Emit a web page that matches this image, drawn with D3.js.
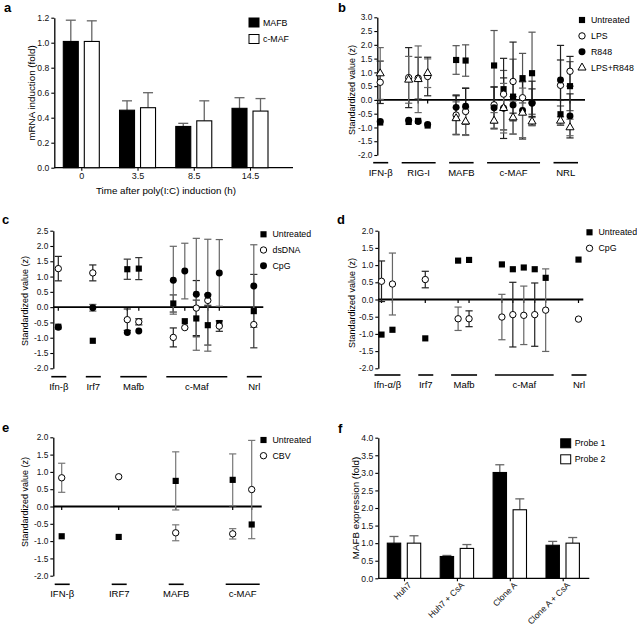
<!DOCTYPE html>
<html><head><meta charset="utf-8">
<script src="https://cdn.jsdelivr.net/npm/d3@7"></script>
<style>body{margin:0;background:#fff} svg{display:block}</style>
</head><body><svg id="c" width="637" height="630"></svg>
<script>
// ---------------- DATA ----------------
// Panel a
const aTimes = ["0", "3.5", "8.5", "14.5"];
const aMAFB = [1.01, 0.46, 0.33, 0.475];
const aMAFBErr = [0.17, 0.075, 0.025, 0.085];
const aCMAF = [1.01, 0.48, 0.375, 0.453];
const aCMAFErr = [0.165, 0.12, 0.16, 0.10];
const aYTicks = [0, 0.2, 0.4, 0.6, 0.8, 1.0, 1.2];
const aSeries = ["MAFB", "c-MAF"];

// Panel b
const bGroups = ["IFN-β", "RIG-I", "MAFB", "c-MAF", "NRL"];
const bGroupSizes = [1, 3, 2, 5, 2];
const bUntreated = [-0.82, -0.80, -0.76, -0.93, 1.45, 1.43, 1.25, 0.39, 0.12, 0.79, 0.97, -0.52, 0.50];
const bUntreatedErr = [0, 0, 0, 0, 0.52, 0.57, 1.27, 0.68, 1.36, 0.90, 1.49, 0.30, 0.89];
const bLPS = [0.64, 0.81, 0.79, 0.85, -0.55, -0.42, -0.18, 0.21, 0.67, 0.08, -0.10, 0.53, 1.04];
const bLPSErr = [0.77, 1.09, 0.76, 0.70, 0.70, 0.85, 0.65, 1.30, 1.43, 0.60, 0.50, 1.45, 0.54];
const bR848 = [-0.78, -0.74, -0.78, -0.89, -0.27, -0.23, -0.28, -0.30, -0.18, -0.38, -0.12, 0.72, -0.58];
const bR848Err = [0, 0, 0, 0, 0.45, 0.65, 0.75, 1.10, 0.30, 1.04, 0.80, 0.73, 0.80];
const bLPSR848 = [0.96, 0.73, 0.75, 0.97, -0.67, -0.79, -0.76, -0.30, -0.64, -0.47, -0.79, -0.76, -1.00];
const bLPSR848Err = [0.94, 0.85, 1.21, 0.52, 0.60, 0.50, 0.30, 0.90, 0.60, 0.90, 0.15, 0.15, 0.30];
const bLegend = ["Untreated", "LPS", "R848", "LPS+R848"];

// Panel c
const cGroups = ["Ifn-β", "Irf7", "Mafb", "c-Maf", "Nrl"];
const cGroupSizes = [1, 1, 2, 5, 1];
const cUntreated = [-0.64, -1.10, 1.24, 1.26, 0.12, -0.46, -0.37, -0.59, -0.52, -0.13];
const cUntreatedErr = [0, 0, 0.33, 0.36, 0.28, 0, 0.60, 0.65, 0, 1.20];
const cDsDNA = [1.26, 1.12, -0.41, -0.48, -0.99, -0.67, -0.03, 0.22, -0.62, -0.57];
const cDsDNAErr = [0.40, 0.26, 0.35, 0.10, 0.31, 0, 0.90, 0.20, 0.17, 0];
const cCpG = [-0.66, -0.02, -0.83, -0.78, 0.88, 1.18, 0.42, 0.39, 1.12, 0.69];
const cCpGErr = [0, 0.11, 0, 0, 1.11, 0.91, 1.83, 1.83, 1.09, 1.35];
const cLegend = ["Untreated", "dsDNA", "CpG"];

// Panel d
const dGroups = ["Ifn-α/β", "Irf7", "Mafb", "c-Maf", "Nrl"];
const dGroupSizes = [2, 1, 2, 5, 1];
const dUntreated = [-1.02, -0.88, -1.13, 1.13, 1.15, 1.02, 0.88, 0.93, 0.88, 0.63, 1.16];
const dCpG = [0.53, 0.45, 0.58, -0.56, -0.56, -0.51, -0.44, -0.46, -0.44, -0.31, -0.57];
const dCpGErr = [0.59, 0.90, 0.24, 0.34, 0.23, 0.66, 0.94, 0.85, 0.92, 1.20, 0];
const dLegend = ["Untreated", "CpG"];

// Panel e
const eGroups = ["IFN-β", "IRF7", "MAFB", "c-MAF"];
const eGroupSizes = [1, 1, 1, 2];
const eUntreated = [-0.86, -0.88, 0.74, 0.77, -0.52];
const eUntreatedErr = [0, 0, 0.84, 0.75, 0];
const eCBV = [0.83, 0.86, -0.76, -0.79, 0.49];
const eCBVErr = [0.42, 0, 0.23, 0.15, 1.42];
const eLegend = ["Untreated", "CBV"];

// Panel f
const fCats = ["Huh7", "Huh7 + CsA", "Clone A", "Clone A + CsA"];
const fProbe1 = [1.0, 0.62, 3.01, 0.94];
const fProbe1Err = [0.19, 0.03, 0.22, 0.11];
const fProbe2 = [1.0, 0.85, 1.95, 1.0];
const fProbe2Err = [0.21, 0.11, 0.31, 0.16];
const fYTicks = [0, 0.5, 1.0, 1.5, 2.0, 2.5, 3.0, 3.5, 4.0];
const fSeries = ["Probe 1", "Probe 2"];

// ---------------- DRAWING ----------------
const FONT = '"Liberation Sans", Arial, Helvetica, sans-serif';
const svg = d3.select("#c").attr("font-family", FONT);

function styleAxis(sel, fs) {
  sel.attr("font-family", FONT);
  sel.select(".domain").attr("stroke", "#000").attr("stroke-width", 1.3);
  sel.selectAll(".tick line").attr("stroke", "#000").attr("stroke-width", 1.1);
  sel.selectAll(".tick text").attr("fill", "#111").attr("font-size", fs);
}
function panelLabel(t, x, y) {
  svg.append("text").attr("x", x).attr("y", y).attr("font-size", 13)
    .attr("font-weight", "bold").attr("fill", "#000").text(t);
}
function yTitle(g, t, x, y, fs) {
  g.append("text").attr("transform", `translate(${x},${y}) rotate(-90)`)
    .attr("text-anchor", "middle").attr("dominant-baseline", "central")
    .attr("font-size", fs).attr("fill", "#000").text(t);
}
const SYM = {
  sq: { type: d3.symbolSquare, size: 38, fill: "#000", stroke: "none" },
  co: { type: d3.symbolCircle, size: 32, fill: "#fff", stroke: "#000" },
  cf: { type: d3.symbolCircle, size: 38, fill: "#000", stroke: "none" },
  to: { type: d3.symbolTriangle, size: 28, fill: "#fff", stroke: "#000" }
};
function drawSym(g, key, x, y) {
  const s = SYM[key];
  g.append("path").attr("d", d3.symbol().type(s.type).size(s.size)())
    .attr("transform", `translate(${x},${y})`)
    .attr("fill", s.fill).attr("stroke", s.stroke).attr("stroke-width", 1);
}

// ----- bar panel -----
function barPanel(o) {
  const g = svg.append("g");
  const x = d3.scalePoint().domain(o.cats).range(o.centers);
  const y = d3.scaleLinear().domain(o.yDomain).range(o.yRange);
  const ya = g.append("g").attr("transform", `translate(${o.axisX},0)`)
    .call(d3.axisLeft(y).tickValues(o.yTicks).tickFormat(d3.format(".1f")).tickSize(3).tickSizeOuter(0).tickPadding(2));
  styleAxis(ya, 8.6);
  const xa = g.append("g").attr("transform", `translate(0,${y(0)})`)
    .call(d3.axisBottom(x).tickSize(3).tickSizeOuter(0).tickPadding(1.5));
  styleAxis(xa, 9);
  xa.select(".domain").remove();
  g.append("line").attr("x1", o.axisX).attr("x2", o.endX).attr("y1", y(0)).attr("y2", y(0))
    .attr("stroke", "#000").attr("stroke-width", 1.3);
  if (o.rotate) {
    xa.selectAll(".tick text").attr("text-anchor", "end").attr("font-size", 8.6)
      .attr("transform", "translate(1,1) rotate(-45)").attr("dx", "0").attr("dy", "0.7em").attr("y", 3);
  }
  const half = o.gap / 2;
  const series = [
    { v: o.s1, e: o.e1, fill: "#000", off: -half - o.barW },
    { v: o.s2, e: o.e2, fill: "#fff", off: half }
  ];
  series.forEach(s => {
    o.cats.forEach((c, i) => {
      const bx = x(c) + s.off, cx = bx + o.barW / 2;
      const top = y(s.v[i] + s.e[i]);
      g.append("line").attr("x1", cx).attr("x2", cx).attr("y1", y(s.v[i])).attr("y2", top)
        .attr("stroke", "#666").attr("stroke-width", 1.3);
      g.append("line").attr("x1", cx - o.cap).attr("x2", cx + o.cap).attr("y1", top).attr("y2", top)
        .attr("stroke", "#666").attr("stroke-width", 1.3);
      g.append("rect").attr("x", bx).attr("y", y(s.v[i])).attr("width", o.barW)
        .attr("height", y(0) - y(s.v[i])).attr("fill", s.fill).attr("stroke", "#000").attr("stroke-width", 1.1);
    });
  });
  // legend
  o.names.forEach((n, i) => {
    const ly = o.legY + i * o.legDy;
    g.append("rect").attr("x", o.legX).attr("y", ly - 4.5).attr("width", 10).attr("height", 9)
      .attr("fill", series[i].fill).attr("stroke", "#000").attr("stroke-width", 1);
    g.append("text").attr("x", o.legX + 14).attr("y", ly).attr("dominant-baseline", "central")
      .attr("font-size", 8.8).attr("fill", "#000").text(n);
  });
  yTitle(g, o.yTitle, o.yTitleX, o.yTitleY, 9.8);
  if (o.xTitle) {
    g.append("text").attr("x", o.xTitleX).attr("y", o.xTitleY).attr("text-anchor", "middle")
      .attr("font-size", 9.8).attr("fill", "#000").text(o.xTitle);
  }
}

// ----- scatter panel -----
function scatterPanel(o) {
  const g = svg.append("g");
  const slots = [], gIdx = [];
  let k = 0;
  o.sizes.forEach((s, gi) => { for (let j = 0; j < s; j++) { slots.push(k + 2 * gi); gIdx.push(gi); k++; } });
  const x = d3.scaleLinear().domain([0, slots[slots.length - 1]]).range(o.xRange);
  const y = d3.scaleLinear().domain(o.yDomain).range(o.yRange);
  const ya = g.append("g").attr("transform", `translate(${o.axisX},0)`)
    .call(d3.axisLeft(y).tickValues(d3.range(o.yDomain[0], o.yDomain[1] + 0.001, 0.5))
      .tickFormat(d => d.toFixed(1)).tickSize(3).tickSizeOuter(0).tickPadding(2));
  styleAxis(ya, 8.3);
  // zero line
  g.append("line").attr("x1", o.axisX).attr("x2", o.endX).attr("y1", y(0)).attr("y2", y(0))
    .attr("stroke", "#000").attr("stroke-width", 1.9);
  slots.forEach(s => g.append("line").attr("x1", x(s)).attr("x2", x(s)).attr("y1", y(0)).attr("y2", y(0) + 3.5)
    .attr("stroke", "#000").attr("stroke-width", 1.2));
  // group underlines + labels
  o.groups.forEach((name, gi) => {
    const ss = slots.filter((_, i) => gIdx[i] === gi);
    const x0 = x(d3.min(ss)) - 7, x1 = x(d3.max(ss)) + 8;
    g.append("line").attr("x1", x0).attr("x2", x1).attr("y1", o.lineY).attr("y2", o.lineY)
      .attr("stroke", "#000").attr("stroke-width", 1.6);
    g.append("text").attr("x", (x0 + x1) / 2).attr("y", o.labelY).attr("text-anchor", "middle")
      .attr("font-size", 9.5).attr("fill", "#000").text(name);
  });
  // error bars
  o.series.forEach(se => {
    if (!se.errs) return;
    se.vals.forEach((v, i) => {
      const e = se.errs[i];
      if (!(e > 0)) return;
      const col = typeof se.errColor === "function" ? se.errColor(i) : se.errColor;
      const xx = x(slots[i]);
      g.append("line").attr("x1", xx).attr("x2", xx).attr("y1", y(v - e)).attr("y2", y(v + e))
        .attr("stroke", col).attr("stroke-width", 1.2);
      [v - e, v + e].forEach(t => g.append("line").attr("x1", xx - 3.6).attr("x2", xx + 3.6)
        .attr("y1", y(t)).attr("y2", y(t)).attr("stroke", col).attr("stroke-width", 1.2));
    });
  });
  // markers
  o.series.forEach(se => se.vals.forEach((v, i) => drawSym(g, se.sym, x(slots[i]), y(v))));
  // legend
  o.series.forEach((se, i) => {
    const ly = o.legY + i * o.legDy;
    drawSym(g, se.sym, o.legX, ly);
    g.append("text").attr("x", o.legX + 9).attr("y", ly).attr("dominant-baseline", "central")
      .attr("font-size", 8.8).attr("fill", "#000").text(o.legend[i]);
  });
  yTitle(g, "Standardized value (z)", o.yTitleX, o.yTitleY, 9);
}

// Panel a
panelLabel("a", 4, 12);
barPanel({
  cats: aTimes, s1: aMAFB, e1: aMAFBErr, s2: aCMAF, e2: aCMAFErr, names: aSeries,
  yDomain: [0, 1.2], yRange: [167.7, 17.7], yTicks: aYTicks,
  centers: [81.3, 250], axisX: 54.3, endX: 293, barW: 15, gap: 6, cap: 5,
  legX: 249, legY: 22.5, legDy: 16.5,
  yTitle: "mRNA induction (fold)", yTitleX: 31.5, yTitleY: 93,
  xTitle: "Time after poly(I:C) induction (h)", xTitleX: 166, xTitleY: 194
});

// Panel b
panelLabel("b", 338, 12);
scatterPanel({
  groups: bGroups, sizes: bGroupSizes, legend: bLegend,
  series: [
    { vals: bUntreated, errs: bUntreatedErr, sym: "sq", errColor: "#555" },
    { vals: bLPS, errs: bLPSErr, sym: "co", errColor: "#222" },
    { vals: bR848, errs: bR848Err, sym: "cf", errColor: "#222" },
    { vals: bLPSR848, errs: bLPSR848Err, sym: "to", errColor: "#666" }
  ],
  xRange: [380.2, 570], axisX: 377.3, endX: 585,
  yDomain: [-2, 3], yRange: [155, 17.3],
  lineY: 162.7, labelY: 175.5,
  legX: 582, legY: 20, legDy: 15.9,
  yTitleX: 351.5, yTitleY: 90
});

// Panel c
panelLabel("c", 2, 223.5);
scatterPanel({
  groups: cGroups, sizes: cGroupSizes, legend: cLegend,
  series: [
    { vals: cUntreated, errs: cUntreatedErr, sym: "sq", errColor: "#333" },
    { vals: cDsDNA, errs: cDsDNAErr, sym: "co", errColor: "#222" },
    { vals: cCpG, errs: cCpGErr, sym: "cf", errColor: "#666" }
  ],
  xRange: [58.3, 253.8], axisX: 53.3, endX: 263.3,
  yDomain: [-2, 2.5], yRange: [368.3, 230.7],
  lineY: 376.7, labelY: 389.5,
  legX: 263.5, legY: 234.3, legDy: 15.7,
  yTitleX: 25, yTitleY: 301
});

// Panel d
panelLabel("d", 337, 223.5);
scatterPanel({
  groups: dGroups, sizes: dGroupSizes, legend: dLegend,
  series: [
    { vals: dUntreated, errs: null, sym: "sq", errColor: "#333" },
    { vals: dCpG, errs: dCpGErr, sym: "co", errColor: i => (i % 2 === 0 ? "#222" : "#666") }
  ],
  xRange: [381.5, 578.5], axisX: 378.3, endX: 583.3,
  yDomain: [-2, 2], yRange: [368.3, 230.7],
  lineY: 375, labelY: 387.5,
  legX: 589.5, legY: 232.3, legDy: 16,
  yTitleX: 351.5, yTitleY: 303
});

// Panel e
panelLabel("e", 2, 432);
scatterPanel({
  groups: eGroups, sizes: eGroupSizes, legend: eLegend,
  series: [
    { vals: eUntreated, errs: eUntreatedErr, sym: "sq", errColor: "#777" },
    { vals: eCBV, errs: eCBVErr, sym: "co", errColor: "#777" }
  ],
  xRange: [61.7, 251.7], axisX: 53.3, endX: 261.7,
  yDomain: [-2, 2], yRange: [575.7, 437.3],
  lineY: 584.3, labelY: 597,
  legX: 263.5, legY: 440, legDy: 15.7,
  yTitleX: 25, yTitleY: 502
});

// Panel f
panelLabel("f", 338, 433);
barPanel({
  cats: fCats, s1: fProbe1, e1: fProbe1Err, s2: fProbe2, e2: fProbe2Err, names: fSeries,
  yDomain: [0, 4], yRange: [578.3, 437.7], yTicks: fYTicks,
  centers: [404, 562.7], axisX: 378.3, endX: 589.3, barW: 13.4, gap: 6.6, cap: 4.5,
  legX: 560.7, legY: 443.3, legDy: 16, rotate: true,
  yTitle: "MAFB expression (fold)", yTitleX: 355, yTitleY: 508
});
</script></body></html>
